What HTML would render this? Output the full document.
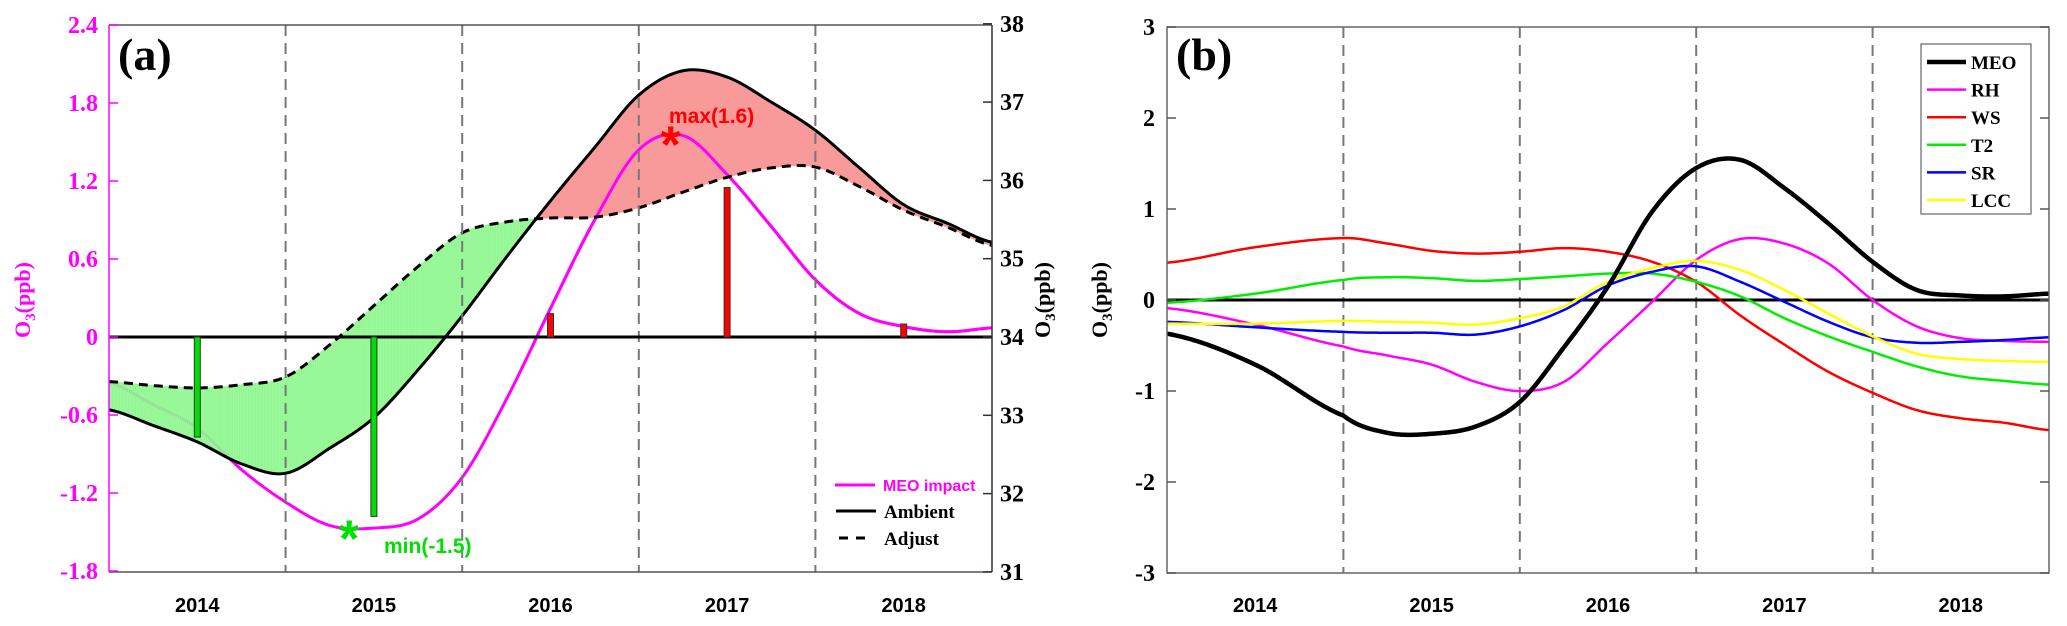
<!DOCTYPE html>
<html><head><meta charset="utf-8"><style>
html,body{margin:0;padding:0;background:#fff;}
svg{display:block;}
.tk{font-family:"Liberation Serif",serif;font-weight:bold;font-size:24px;}
.yr{font-family:"Liberation Sans",sans-serif;font-weight:bold;font-size:20px;}
</style></head><body>
<svg id="chart" width="2067" height="626" viewBox="0 0 2067 626" xmlns="http://www.w3.org/2000/svg">
<g id="pa"></g>
<g id="pb"></g>
</svg>
<script>
// ---------- Panel (a) data ----------
const tA = [2013.5,2013.75,2014,2014.25,2014.5,2014.75,2015,2015.25,2015.5,2015.75,2016,2016.25,2016.5,2016.75,2017,2017.25,2017.5,2017.75,2018,2018.25,2018.5];
const ambient = [33.07,32.87,32.66,32.38,32.26,32.58,32.97,33.58,34.27,35.02,35.74,36.42,37.09,37.40,37.32,37.00,36.64,36.16,35.69,35.45,35.21];
const adjust = [33.43,33.38,33.35,33.39,33.49,33.9,34.4,34.9,35.33,35.47,35.52,35.53,35.65,35.85,36.04,36.16,36.17,35.92,35.62,35.40,35.17];
const meoImpact = [-0.35,-0.52,-0.70,-1.02,-1.27,-1.45,-1.47,-1.40,-1.08,-0.48,0.22,0.90,1.44,1.55,1.25,0.85,0.44,0.18,0.08,0.04,0.07];
const barYears = [2014,2015,2016,2017,2018];
const barValues = [-0.77,-1.38,0.18,1.15,0.10];
const leftTicks = [-1.8,-1.2,-0.6,0,0.6,1.2,1.8,2.4];
const leftTickLabels = ["-1.8","-1.2","-0.6","0","0.6","1.2","1.8","2.4"];
const rightTicks = [31,32,33,34,35,36,37,38];
const yearLabels = ["2014","2015","2016","2017","2018"];
const minPoint = [2014.86,-1.48];
const maxPoint = [2016.68,1.55];

// ---------- Panel (b) data ----------
const tB = [2013.5,2014,2014.5,2014.75,2015,2015.25,2015.5,2015.75,2016,2016.25,2016.5,2016.75,2017,2017.25,2017.5,2017.75,2018,2018.25,2018.5];
const bMEO = [-0.37,-0.71,-1.27,-1.46,-1.47,-1.39,-1.12,-0.52,0.15,0.97,1.45,1.54,1.23,0.84,0.42,0.11,0.05,0.04,0.07];
const bRH = [-0.09,-0.27,-0.51,-0.61,-0.71,-0.90,-1.0,-0.90,-0.47,-0.02,0.44,0.67,0.62,0.40,0.0,-0.29,-0.42,-0.45,-0.46];
const bWS = [0.41,0.58,0.68,0.62,0.54,0.51,0.53,0.57,0.53,0.42,0.20,-0.17,-0.49,-0.79,-1.02,-1.21,-1.30,-1.35,-1.43];
const bT2 = [-0.03,0.07,0.22,0.25,0.24,0.21,0.23,0.26,0.29,0.29,0.20,0.04,-0.20,-0.40,-0.57,-0.73,-0.84,-0.89,-0.93];
const bSR = [-0.24,-0.30,-0.35,-0.36,-0.36,-0.38,-0.29,-0.11,0.16,0.31,0.37,0.20,-0.02,-0.24,-0.41,-0.47,-0.46,-0.44,-0.41];
const bLCC = [-0.26,-0.26,-0.23,-0.24,-0.25,-0.27,-0.20,-0.07,0.20,0.35,0.43,0.33,0.11,-0.15,-0.40,-0.59,-0.65,-0.67,-0.68];
const bNames = ["MEO","RH","WS","T2","SR","LCC"];
const bTicks = [-3,-2,-1,0,1,2,3];

const NS="http://www.w3.org/2000/svg";
function mk(tag,attrs,parent){const e=document.createElementNS(NS,tag);for(const k in attrs)e.setAttribute(k,attrs[k]);parent.appendChild(e);return e;}
function interp(T,V,t){
  let i=0; while(i<T.length-2 && t>T[i+1]) i++;
  const p0=V[Math.max(i-1,0)],p1=V[i],p2=V[i+1],p3=V[Math.min(i+2,V.length-1)];
  const u=(t-T[i])/(T[i+1]-T[i]);
  return 0.5*((2*p1)+(-p0+p2)*u+(2*p0-5*p1+4*p2-p3)*u*u+(-p0+3*p1-3*p2+p3)*u*u*u);
}
function curvePath(T,V,xf,yf){
  let d="";const n=400;
  for(let k=0;k<=n;k++){const t=T[0]+(T[T.length-1]-T[0])*k/n;d+=(k?"L":"M")+xf(t).toFixed(2)+","+yf(interp(T,V,t)).toFixed(2);}
  return d;
}
// ===== Panel A =====
const pa=document.getElementById('pa');
const AX0=109,AX1=992,AY0=25,AY1=572;
const xA=t=>AX0+(t-2013.5)/5*(AX1-AX0);
const yL=v=>337-v*130;
const yR=v=>337-(v-34)*78.3;
let meoA=mk('path',{d:curvePath(tA,meoImpact,xA,yL),fill:'none',stroke:'#ff00ff','stroke-width':3},pa);


const fillG=mk('g',{},pa);


{const n=500;let prev=null;
 for(let k=0;k<=n;k++){const t=2013.5+5*k/n;const a=interp(tA,ambient,t),b=interp(tA,adjust,t);const cur=[xA(t),yR(a),yR(b),b>a];
  if(prev){const pos=!cur[3];
   mk('polygon',{points:`${prev[0]},${prev[1]} ${cur[0]},${cur[1]} ${cur[0]},${cur[2]} ${prev[0]},${prev[2]}`,fill:pos?'#f99a9a':'#8ef78e','fill-opacity':pos?1:0.85,stroke:pos?'#f99a9a':'#8ef78e','stroke-width':0.6},fillG);}
  prev=cur;}}
const cp=mk('clipPath',{id:'clipR'},pa);
mk('rect',{x:xA(2015.9),y:0,width:1000,height:626},cp);
let meoTop=mk('path',{d:curvePath(tA,meoImpact,xA,yL),fill:'none',stroke:'#ff00ff','stroke-width':3,'clip-path':'url(#clipR)'},pa);


let amb=mk('path',{d:curvePath(tA,ambient,xA,yR),fill:'none',stroke:'#000','stroke-width':3},pa);


let adj=mk('path',{d:curvePath(tA,adjust,xA,yR),fill:'none',stroke:'#000','stroke-width':3,'stroke-dasharray':'9,6'},pa);


[2014.5,2015.5,2016.5,2017.5].forEach(t=>{const l=mk('line',{x1:xA(t),x2:xA(t),y1:AY0,y2:AY1,stroke:'#777','stroke-width':2,'stroke-dasharray':'11,7'},pa);
 
 });
let z=mk('line',{x1:AX0,x2:AX1,y1:yL(0),y2:yL(0),stroke:'#000','stroke-width':3},pa);


barYears.forEach((yr,i)=>{const v=barValues[i];const y0=yL(0),y1=yL(v);
 const r=mk('rect',{x:xA(yr)-3,y:Math.min(y0,y1),width:6,height:Math.abs(y1-y0),fill:v<0?'#00e000':'#ff0000',stroke:'#333','stroke-width':1},pa);
 
 });
mk('line',{x1:AX0,x2:AX1,y1:AY0,y2:AY0,stroke:'#555','stroke-width':1.5},pa);
mk('line',{x1:AX0,x2:AX1,y1:AY1,y2:AY1,stroke:'#555','stroke-width':1.5},pa);
mk('line',{x1:AX1,x2:AX1,y1:AY0,y2:AY1,stroke:'#3a2a3a','stroke-width':1.5},pa);
let la=mk('line',{x1:AX0,x2:AX0,y1:AY0,y2:AY1,stroke:'#ff00ff','stroke-width':1.5},pa);


leftTicks.forEach((v,i)=>{mk('line',{x1:AX0,x2:AX0+9,y1:yL(v),y2:yL(v),stroke:'#ff00ff','stroke-width':1.5},pa);
 const t=mk('text',{x:98,y:yL(v)+8,'text-anchor':'end',class:'tk',fill:'#ff00ff'},pa);t.textContent=leftTickLabels[i];
 
 });
rightTicks.forEach(v=>{mk('line',{x1:AX1-9,x2:AX1,y1:yR(v),y2:yR(v),stroke:'#3a2a3a','stroke-width':1.5},pa);
 const t=mk('text',{x:1000,y:yR(v)+8,class:'tk',fill:'#000'},pa);t.textContent=String(v);
 
 });
yearLabels.forEach(s=>{const t=mk('text',{x:xA(+s),y:612,'text-anchor':'middle',class:'yr'},pa);t.textContent=s;
 
 });
let sm=mk('text',{x:xA(minPoint[0]),y:yL(minPoint[1])+27,'text-anchor':'middle',fill:'#00e000','font-family':'Liberation Sans,sans-serif','font-weight':'bold','font-size':'52px'},pa);sm.textContent='*';


let smt=mk('text',{x:384,y:553,fill:'#00e000','font-family':'Liberation Sans,sans-serif','font-weight':'bold','font-size':'21px'},pa);smt.textContent='min(-1.5)';


let sx=mk('text',{x:xA(maxPoint[0]),y:yL(maxPoint[1])+27,'text-anchor':'middle',fill:'#ff0000','font-family':'Liberation Sans,sans-serif','font-weight':'bold','font-size':'52px'},pa);sx.textContent='*';


let sxt=mk('text',{x:669,y:123,fill:'#ff0000','font-family':'Liberation Sans,sans-serif','font-weight':'bold','font-size':'21px'},pa);sxt.textContent='max(1.6)';


let pla=mk('text',{x:118,y:70,'font-family':'Liberation Serif,serif','font-weight':'bold','font-size':'46px'},pa);pla.textContent='(a)';


let yt=mk('text',{transform:'translate(30,300) rotate(-90)','text-anchor':'middle',fill:'#ff00ff','font-family':'Liberation Serif,serif','font-weight':'bold','font-size':'22px'},pa);
yt.innerHTML='O<tspan font-size="15" dy="5">3</tspan><tspan dy="-5">(ppb)</tspan>';


let yt2=mk('text',{transform:'translate(1050,300) rotate(-90)','text-anchor':'middle',fill:'#000','font-family':'Liberation Serif,serif','font-weight':'bold','font-size':'22px'},pa);
yt2.innerHTML='O<tspan font-size="15" dy="5">3</tspan><tspan dy="-5">(ppb)</tspan>';


const legA=mk('g',{},pa);


mk('line',{x1:835,x2:875,y1:485,y2:485,stroke:'#ff00ff','stroke-width':3},legA);
let t1=mk('text',{x:883,y:491,fill:'#ff00ff','font-family':'Liberation Sans,sans-serif','font-weight':'bold','font-size':'16px'},legA);t1.textContent='MEO impact';
mk('line',{x1:836,x2:876,y1:511,y2:511,stroke:'#000','stroke-width':3},legA);
let t2=mk('text',{x:884,y:518,'font-family':'Liberation Serif,serif','font-weight':'bold','font-size':'19px'},legA);t2.textContent='Ambient';
mk('line',{x1:839,x2:872,y1:538,y2:538,stroke:'#000','stroke-width':3,'stroke-dasharray':'9,8'},legA);
let t3=mk('text',{x:884,y:545,'font-family':'Liberation Serif,serif','font-weight':'bold','font-size':'19px'},legA);t3.textContent='Adjust';

// ===== Panel B =====
const pb=document.getElementById('pb');
const BX0=1167,BX1=2049,BY0=27,BY1=573;
const xB=t=>BX0+(t-2013.5)/5*(BX1-BX0);
const yB=v=>300-v*91;
[2014.5,2015.5,2016.5,2017.5].forEach(t=>{const l=mk('line',{x1:xB(t),x2:xB(t),y1:BY0,y2:BY1,stroke:'#777','stroke-width':2,'stroke-dasharray':'11,7'},pb);
 
 });
let zb=mk('line',{x1:BX0,x2:BX1,y1:yB(0),y2:yB(0),stroke:'#000','stroke-width':3},pb);


const series=[[bRH,'#ff00ff',2.5],[bWS,'#ff0000',2.5],[bT2,'#00ee00',2.5],[bSR,'#0000ff',2.5],[bLCC,'#ffff00',2.5],[bMEO,'#000',4.5]];
const seriesNames=["RH","WS","T2","SR","LCC","MEO"];
series.forEach((s,i)=>{const p=mk('path',{d:curvePath(tB,s[0],xB,yB),fill:'none',stroke:s[1],'stroke-width':s[2]},pb);
 
 });
mk('rect',{x:BX0,y:BY0,width:BX1-BX0,height:BY1-BY0,fill:'none',stroke:'#666','stroke-width':1.5},pb);
bTicks.forEach(v=>{mk('line',{x1:BX0,x2:BX0+9,y1:yB(v),y2:yB(v),stroke:'#555','stroke-width':1.5},pb);
 mk('line',{x1:BX1-9,x2:BX1,y1:yB(v),y2:yB(v),stroke:'#555','stroke-width':1.5},pb);
 const t=mk('text',{x:1155,y:yB(v)+8,'text-anchor':'end',class:'tk'},pb);t.textContent=String(v);
 
 });
yearLabels.forEach(s=>{const t=mk('text',{x:xB(+s),y:612,'text-anchor':'middle',class:'yr'},pb);t.textContent=s;
 
 });
let plb=mk('text',{x:1176,y:70,'font-family':'Liberation Serif,serif','font-weight':'bold','font-size':'46px'},pb);plb.textContent='(b)';


let ytb=mk('text',{transform:'translate(1107,300) rotate(-90)','text-anchor':'middle',fill:'#000','font-family':'Liberation Serif,serif','font-weight':'bold','font-size':'22px'},pb);
ytb.innerHTML='O<tspan font-size="15" dy="5">3</tspan><tspan dy="-5">(ppb)</tspan>';


const legB=mk('g',{},pb);


mk('rect',{x:1921,y:44,width:110,height:170,fill:'#fff',stroke:'#666','stroke-width':1.2},legB);
const legCols={MEO:['#000',4.5],RH:['#ff00ff',2.5],WS:['#ff0000',2.5],T2:['#00ee00',2.5],SR:['#0000ff',2.5],LCC:['#ffff00',2.5]};
bNames.forEach((n,i)=>{const y=62+i*27.6;
 const e=mk('g',{},legB);
 
 
 mk('line',{x1:1927,x2:1966,y1:y,y2:y,stroke:legCols[n][0],'stroke-width':legCols[n][1]},e);
 const t=mk('text',{x:1971,y:y+7,'font-family':'Liberation Serif,serif','font-weight':'bold','font-size':'19px'},e);t.textContent=n;});
</script>
</body></html>
